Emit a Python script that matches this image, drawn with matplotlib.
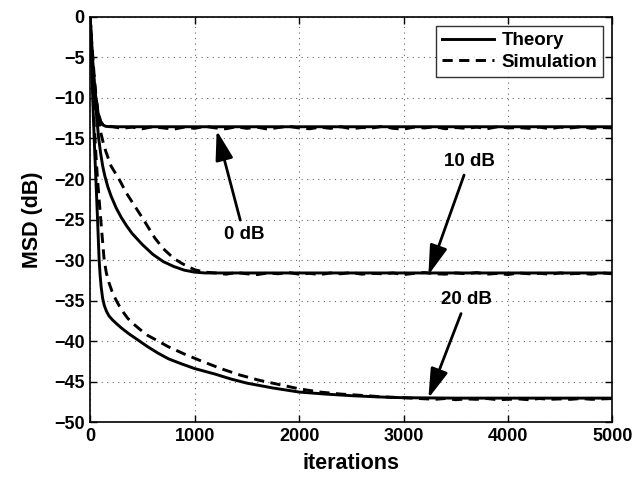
import matplotlib
matplotlib.use("Agg")
import matplotlib.pyplot as plt
import numpy as np

plt.rcParams['font.family'] = ['Liberation Sans', 'DejaVu Sans']
plt.rcParams['font.weight'] = 'bold'

# ---------------- data ----------------
# 0 dB
th0_it = [0, 10, 25, 50, 75, 100, 125, 150, 200, 5000]
th0_db = [0, -2.5, -6, -9.5, -11.8, -12.9, -13.35, -13.5, -13.55, -13.55]
sim0_it = [0, 10, 25, 50, 75, 100, 125, 150] + list(range(200, 5001, 100))
sim0_db = [0, -2.4, -5.9, -9.4, -11.7, -12.9, -13.4, -13.6,
           -13.5, -13.75, -13.6, -13.8, -13.55, -13.7, -13.85, -13.6, -13.75, -13.5,
           -13.7, -13.8, -13.55, -13.75, -13.6, -13.85, -13.65, -13.5, -13.7, -13.8,
           -13.6, -13.75, -13.55, -13.8, -13.65, -13.7, -13.5, -13.75, -13.85, -13.6,
           -13.7, -13.55, -13.8, -13.65, -13.75, -13.6, -13.8, -13.55, -13.7, -13.65,
           -13.75, -13.6, -13.8, -13.6, -13.7, -13.55, -13.75, -13.65, -13.7]

# 10 dB
th10_it = [0, 20, 40, 60, 80, 100, 120, 140, 170, 200, 250, 300, 350, 400, 450, 500, 600, 700,
           800, 900, 1000, 1100, 5000]
th10_db = [0, -4.5, -8.5, -12, -14.8, -16.8, -18.4, -19.6, -21.0, -22.1, -23.6, -24.8, -25.8,
           -26.7, -27.4, -28.1, -29.3, -30.2, -30.8, -31.25, -31.5, -31.6, -31.6]
sim10_it = [0, 20, 40, 60, 80, 100, 125, 150, 200, 280, 350, 430, 500, 620, 700, 800, 875, 950,
            1000] + list(range(1100, 5001, 100))
sim10_db = [0, -4, -7.5, -10.3, -12.5, -14.2, -15.5, -16.6, -18.4, -20.1, -21.8, -23.4, -24.8,
            -27.3, -28.6, -29.8, -30.4, -30.9, -31.2,
            -31.5, -31.6, -31.75, -31.55, -31.7, -31.8, -31.6, -31.7, -31.55, -31.75,
            -31.65, -31.8, -31.6, -31.7, -31.55, -31.75, -31.65, -31.7, -31.6, -31.8,
            -31.65, -31.55, -31.7, -31.75, -31.6, -31.7, -31.55, -31.75, -31.65, -31.8,
            -31.6, -31.7, -31.65, -31.75, -31.6, -31.7, -31.65, -31.75, -31.6, -31.7]

# 20 dB
th20_it = [0, 10, 20, 30, 40, 55, 71, 86, 95, 105, 119, 135, 155, 180, 214, 260, 300, 370, 438,
           550, 650, 750, 870, 1000, 1200, 1350, 1500, 1750, 2000, 2250, 2500, 2750, 3000, 3500,
           5000]
th20_db = [0, -4, -8, -12, -15.5, -20.1, -25.1, -30, -31.8, -33.3, -34.7, -35.6, -36.3, -36.9,
           -37.4, -37.95, -38.4, -39.1, -39.7, -40.7, -41.5, -42.2, -42.8, -43.4, -44.1, -44.7,
           -45.2, -45.8, -46.3, -46.55, -46.75, -46.9, -47.0, -47.05, -47.05]
sim20_it = [0, 10, 20, 30, 40, 55, 71, 102, 134, 155, 180, 210, 246, 280, 320, 360, 406, 480,
            550, 650, 747, 900, 1051, 1250, 1434, 1620, 1817, 2000, 2200, 2400, 2647, 2800,
            3000] + list(range(3300, 5001, 100))
sim20_db = [0, -3.5, -7, -10.5, -13.5, -17, -20.1, -25.1, -30, -31.6, -32.8, -33.9, -34.9,
            -35.7, -36.5, -37.2, -37.8, -38.6, -39.3, -40.0, -40.7, -41.6, -42.4, -43.4, -44.2,
            -44.85, -45.4, -45.9, -46.3, -46.55, -46.75, -46.9, -47.0,
            -47.2, -47.1, -47.25, -47.15, -47.2, -47.1, -47.25, -47.2, -47.15, -47.25,
            -47.1, -47.2, -47.15, -47.2, -47.1, -47.2, -47.15, -47.1]

x_ticks = [0, 1000, 2000, 3000, 4000, 5000]
y_ticks = [-50, -45, -40, -35, -30, -25, -20, -15, -10, -5, 0]

# annotations: (label, text position, arrow tip)
annots = [("0 dB", (1472, -26.8), (1211, -14.0)),
          ("10 dB", (3627, -17.8), (3238, -31.85)),
          ("20 dB", (3602, -34.9), (3238, -47.07))]

# ---------------- figure ----------------
fig = plt.figure(figsize=(6.44, 4.80), dpi=100)
ax = fig.add_axes([0.140, 0.1208, 0.811, 0.8438])

lw = 2.1
dash = (0, (3.5, 2.2))
ax.plot(th0_it, th0_db, color='k', lw=lw, label='Theory')
ax.plot(sim0_it, sim0_db, color='k', lw=lw, linestyle=dash, label='Simulation')
ax.plot(th10_it, th10_db, color='k', lw=lw)
ax.plot(sim10_it, sim10_db, color='k', lw=lw, linestyle=dash)
ax.plot(th20_it, th20_db, color='k', lw=lw)
ax.plot(sim20_it, sim20_db, color='k', lw=lw, linestyle=dash)

ax.set_xlim(0, 5000)
ax.set_ylim(-50, 0)
ax.set_xticks(x_ticks)
ax.set_yticks(y_ticks)
ax.set_xticklabels([str(v) for v in x_ticks])
ax.set_yticklabels([('\u2212' + str(-v)) if v < 0 else str(v) for v in y_ticks])
ax.tick_params(direction='in', top=True, right=True, length=5, width=1, labelsize=13, pad=4)
for lab in ax.get_xticklabels() + ax.get_yticklabels():
    lab.set_fontweight('bold')
for sp in ax.spines.values():
    sp.set_linewidth(1.2)
ax.grid(True, linestyle=(0, (1, 4)), color='#666666', linewidth=0.8)

ax.set_xlabel('iterations', fontsize=15.5, fontweight='bold', labelpad=6)
ax.set_ylabel('MSD (dB)', fontsize=15.5, fontweight='bold', labelpad=8)

for txt, tpos, tip in annots:
    ax.annotate(txt, xy=tip, xytext=tpos, ha='center', va='center',
                fontsize=13.5, fontweight='bold',
                arrowprops=dict(arrowstyle='-|>,head_length=1.0,head_width=0.3',
                                color='k', lw=2, mutation_scale=18,
                                shrinkA=2, shrinkB=0))

leg = ax.legend(loc='upper right', fontsize=13.5, frameon=True, fancybox=False,
                edgecolor='k', borderaxespad=0.5, handlelength=2.8, handletextpad=0.4,
                borderpad=0.3, labelspacing=0.25)
leg.get_frame().set_linewidth(1.0)
for t in leg.get_texts():
    t.set_fontweight('bold')

fig.savefig('out.png', dpi=100)
